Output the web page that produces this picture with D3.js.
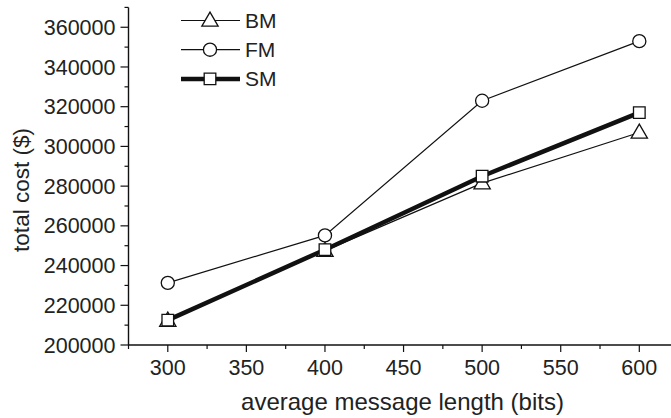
<!DOCTYPE html>
<html><head><meta charset="utf-8">
<script src="https://cdn.jsdelivr.net/npm/d3@7"></script>
<style>
body{margin:0;background:#fff;}
text{font-family:"Liberation Sans",Arial,sans-serif;fill:#222;}
</style></head>
<body><svg id="c" width="671" height="418"></svg>
<script>
const xValues = [300, 400, 500, 600];
const bmValues = [212300, 247500, 281500, 307000];
const fmValues = [231300, 255200, 323000, 353000];
const smValues = [212500, 248000, 285000, 317000];
const seriesNames = ["BM", "FM", "SM"];
const xTicks = [300, 350, 400, 450, 500, 550, 600];
const yTicks = [200000, 220000, 240000, 260000, 280000, 300000, 320000, 340000, 360000];
const xTitle = "average message length (bits)";
const yTitle = "total cost ($)";

const svg = d3.select("#c");
const x = d3.scaleLinear().domain([275, 625]).range([128.5, 678.6]);
const y = d3.scaleLinear().domain([200000, 370000]).range([345, 7.4]);

const g = svg.append("g");
const xMinor = d3.range(275, 626, 25);
const yMinor = d3.range(200000, 370001, 10000);

const xa = g.append("g").attr("transform", "translate(0,345)");
xa.append("line").attr("x1", x(275)).attr("x2", 671).attr("stroke", "#111").attr("stroke-width", 1.4);
xa.selectAll(".mn").data(xMinor.filter(v => !xTicks.includes(v))).join("line")
  .attr("x1", d => x(d)).attr("x2", d => x(d)).attr("y1", 0).attr("y2", 4).attr("stroke", "#111").attr("stroke-width", 1.2);
xa.selectAll(".mj").data(xTicks).join("line")
  .attr("x1", d => x(d)).attr("x2", d => x(d)).attr("y1", 0).attr("y2", 7).attr("stroke", "#111").attr("stroke-width", 1.2);
xa.selectAll(".tl").data(xTicks).join("text")
  .attr("x", d => x(d)).attr("y", 30).attr("text-anchor", "middle").attr("font-size", 21.5).text(d => d);

const ya = g.append("g").attr("transform", "translate(128.5,0)");
ya.append("line").attr("y1", y(370000)).attr("y2", 345).attr("stroke", "#111").attr("stroke-width", 1.4);
ya.selectAll(".mn").data(yMinor.filter(v => !yTicks.includes(v))).join("line")
  .attr("y1", d => y(d)).attr("y2", d => y(d)).attr("x1", 0).attr("x2", -4).attr("stroke", "#111").attr("stroke-width", 1.2);
ya.selectAll(".mj").data(yTicks).join("line")
  .attr("y1", d => y(d)).attr("y2", d => y(d)).attr("x1", 0).attr("x2", -8).attr("stroke", "#111").attr("stroke-width", 1.2);
ya.selectAll(".tl").data(yTicks).join("text")
  .attr("x", -13).attr("y", d => y(d)).attr("dy", "0.35em").attr("text-anchor", "end").attr("font-size", 21.5).text(d => d);

svg.append("text").attr("x", 402.5).attr("y", 410).attr("text-anchor", "middle").attr("font-size", 24).text(xTitle);
svg.append("text").attr("transform", "translate(29,190) rotate(-90)").attr("text-anchor", "middle").attr("font-size", 22.5).text(yTitle);

const series = [
  {name: seriesNames[0], vals: bmValues, sym: d3.symbolTriangle, size: 115, w: 1.2},
  {name: seriesNames[1], vals: fmValues, sym: d3.symbolCircle, size: 135, w: 1.2},
  {name: seriesNames[2], vals: smValues, sym: d3.symbolSquare, size: 135, w: 4.5}
];
const line = d3.line().x(d => x(d[0])).y(d => y(d[1]));
series.forEach(s => {
  const pts = xValues.map((v, i) => [v, s.vals[i]]);
  g.append("path").attr("d", line(pts)).attr("fill", "none").attr("stroke", "#111").attr("stroke-width", s.w);
});
series.forEach(s => {
  const pts = xValues.map((v, i) => [v, s.vals[i]]);
  g.selectAll(null).data(pts).join("path")
    .attr("d", d3.symbol().type(s.sym).size(s.size))
    .attr("transform", d => `translate(${x(d[0])},${y(d[1]) + (s.sym === d3.symbolTriangle ? 1 : 0)})`)
    .attr("fill", "#fff").attr("stroke", "#111").attr("stroke-width", 1.3);
});

const lg = svg.append("g");
series.forEach((s, i) => {
  const ly = 20.5 + i * 29.2;
  lg.append("line").attr("x1", 181).attr("x2", 240).attr("y1", ly).attr("y2", ly)
    .attr("stroke", "#111").attr("stroke-width", s.w);
  lg.append("path").attr("d", d3.symbol().type(s.sym).size(s.size)())
    .attr("transform", `translate(210,${ly + (s.sym === d3.symbolTriangle ? 1 : 0)})`)
    .attr("fill", "#fff").attr("stroke", "#111").attr("stroke-width", 1.3);
  lg.append("text").attr("x", 245).attr("y", ly).attr("dy", "0.36em").attr("font-size", 21).text(s.name);
});
</script></body></html>
